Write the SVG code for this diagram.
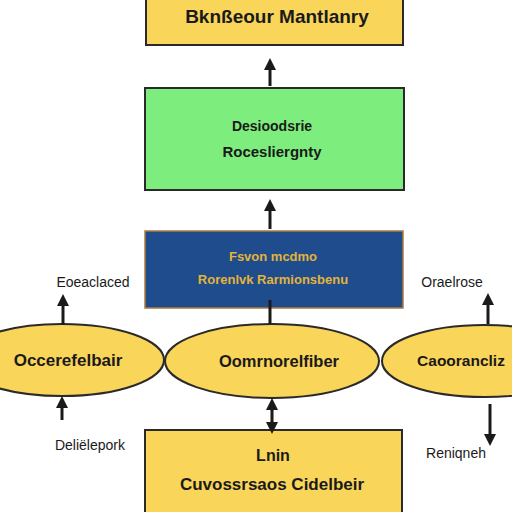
<svg xmlns="http://www.w3.org/2000/svg" width="512" height="512" viewBox="0 0 512 512">
<style>
.box{stroke:#2a2a2a;stroke-width:2}
.yel{fill:#F9D55A}
.t{font-family:"Liberation Sans",Arial,sans-serif;font-weight:bold;fill:#1a1a1a;text-anchor:middle}
.lbl{font-family:"Liberation Sans",Arial,sans-serif;fill:#1a1a1a;text-anchor:middle;font-size:14px}
.c{stroke:#1a1a1a;stroke-width:3;fill:none}
</style>
<defs>
<marker id="ah" viewBox="0 0 10 10" refX="5" refY="5" markerWidth="4" markerHeight="4" orient="auto-start-reverse">
<path d="M0,0 L10,5 L0,10 z" fill="#1a1a1a"/>
</marker>
</defs>
<rect width="512" height="512" fill="#ffffff"/>
<g id="n-top">
<rect class="box yel" x="146" y="-4" width="257" height="49"/>
<text class="t" x="277" y="23" font-size="19">Bknßeour Mantlanry</text>
</g>
<g id="n-green">
<rect class="box" fill="#7DEE7D" x="145" y="88" width="259" height="102"/>
<text class="t" x="272" y="131" font-size="14">Desioodsrie</text>
<text class="t" x="272" y="157" font-size="15">Rocesliergnty</text>
</g>
<g id="n-blue">
<rect fill="#1F4C8C" stroke="#B07A3A" stroke-width="1.5" x="145" y="231" width="258" height="77"/>
<text class="t" x="273" y="261" font-size="13" style="fill:#E3B33A">Fsvon mcdmo</text>
<text class="t" x="273" y="284" font-size="13" style="fill:#E3B33A">Rorenlvk Rarmionsbenu</text>
</g>
<g id="n-left">
<ellipse cx="62" cy="360" rx="102" ry="36" fill="#F9D55A" stroke="#2a2a2a" stroke-width="2"/>
<text class="t" x="68" y="366" font-size="17">Occerefelbair</text>
</g>
<g id="n-mid">
<ellipse cx="272" cy="361" rx="107" ry="37" fill="#F9D55A" stroke="#2a2a2a" stroke-width="2"/>
<text class="t" x="279" y="367" font-size="16.5">Oomrnorelfiber</text>
</g>
<g id="n-right">
<ellipse cx="484" cy="361" rx="102" ry="36" fill="#F9D55A" stroke="#2a2a2a" stroke-width="2"/>
<text class="t" x="461" y="366" font-size="15.5">Caoorancliz</text>
</g>
<g id="n-bottom">
<rect class="box yel" x="145" y="430" width="257" height="90"/>
<text class="t" x="273" y="461" font-size="16">Lnin</text>
<text class="t" x="272" y="490" font-size="17">Cuvossrsaos Cidelbeir</text>
</g>
<g id="labels">
<text class="lbl" x="93" y="287">Eoeaclaced</text>
<text class="lbl" x="452" y="287">Oraelrose</text>
<text class="lbl" x="90" y="450">Deliëlepork</text>
<text class="lbl" x="456" y="458">Reniqneh</text>
</g>
<g id="connectors">
<line class="c" x1="270" y1="86" x2="270" y2="64" marker-end="url(#ah)"/>
<line class="c" x1="270" y1="229" x2="270" y2="205" marker-end="url(#ah)"/>
<line class="c" x1="270" y1="300" x2="270" y2="324" stroke-width="5"/>
<line class="c" x1="63" y1="325" x2="63" y2="300" marker-end="url(#ah)" stroke-width="4"/>
<line class="c" x1="488" y1="324" x2="488" y2="299" marker-end="url(#ah)" stroke-width="4"/>
<line class="c" x1="62" y1="420" x2="62" y2="402" marker-end="url(#ah)"/>
<line class="c" x1="272" y1="428" x2="272" y2="404" marker-end="url(#ah)" marker-start="url(#ah)"/>
<line class="c" x1="490" y1="404" x2="490" y2="440" marker-end="url(#ah)" stroke-width="4"/>
</g>
</svg>
